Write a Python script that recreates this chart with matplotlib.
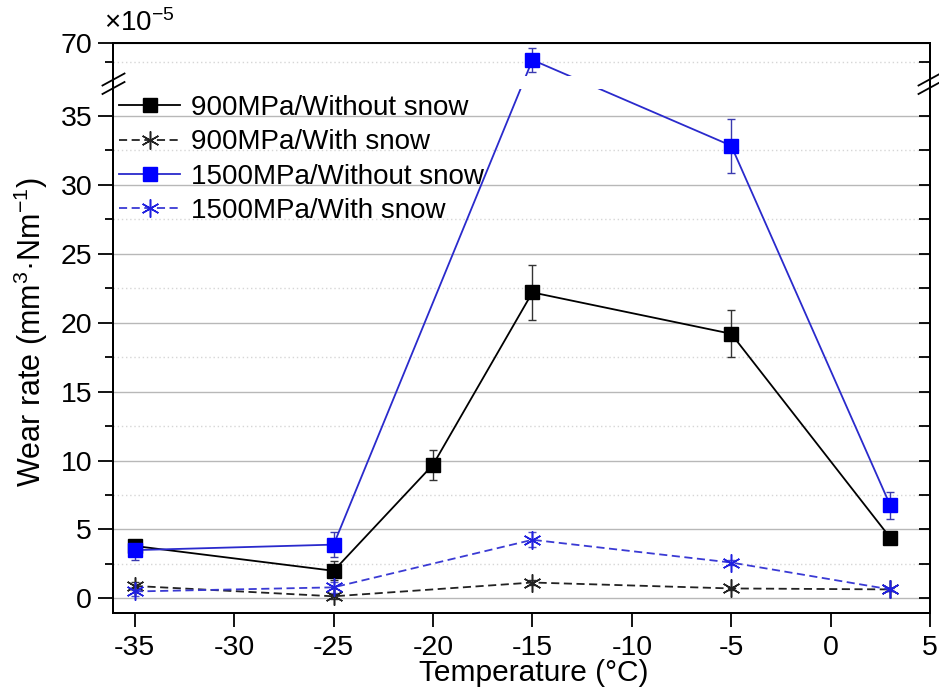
import numpy as np
import matplotlib
matplotlib.use('Agg')
import matplotlib.pyplot as plt
from matplotlib.patches import Rectangle
from matplotlib.lines import Line2D

plt.rcParams['font.family'] = ['Liberation Sans', 'DejaVu Sans']
plt.rcParams['mathtext.fontset'] = 'custom'
plt.rcParams['mathtext.rm'] = 'Liberation Sans'
plt.rcParams['mathtext.it'] = 'Liberation Sans:italic'
plt.rcParams['mathtext.bf'] = 'Liberation Sans:bold'

# ---------------- data ----------------
temps_900_dry = [-35, -25, -20, -15, -5, 3]
wear_900_dry = [3.8, 2.0, 9.7, 22.2, 19.2, 4.4]
err_900_dry = [0.3, 0.7, 1.1, 2.0, 1.7, 0.2]

temps = [-35, -25, -15, -5, 3]
wear_900_snow = [0.9, 0.15, 1.15, 0.72, 0.65]
err_900_snow = [0.3, 0.2, 0.2, 0.1, 0.1]
wear_1500_dry = [3.5, 3.9, 65.6, 32.85, 6.75]
err_1500_dry = [0.7, 0.9, 3.0, 1.95, 1.0]
wear_1500_snow = [0.5, 0.8, 4.25, 2.6, 0.65]
err_1500_snow = [0.3, 0.4, 0.55, 0.2, 0.1]

labels = ['900MPa/Without snow', '900MPa/With snow',
          '1500MPa/Without snow', '1500MPa/With snow']
xticks = [-35, -30, -25, -20, -15, -10, -5, 0, 5]
yticks_major = [0, 5, 10, 15, 20, 25, 30, 35, 70]
yticks_minor = [2.5, 7.5, 12.5, 17.5, 22.5, 27.5, 32.5, 65]

# ---------------- broken y scale ----------------
B_LO, B_HI, K = 37.5, 60.0, 0.28
xp = [-1e4, B_LO, B_HI, 1e4]
fp = [-1e4, B_LO, B_LO + 1e-6, B_LO + 1e-6 + (1e4 - B_HI) * K]


def fwd(y):
    return np.interp(np.asarray(y, float), xp, fp)


def inv(t):
    return np.interp(np.asarray(t, float), fp, xp)


W, H = 939, 697
fig = plt.figure(figsize=(W / 100, H / 100), dpi=100)
ax = fig.add_axes([113 / W, 1 - 612.7 / H, 817 / W, 569.7 / H])
ax.set_yscale('function', functions=(fwd, inv))
ax.set_xlim(-36.1, 5)
ax.set_ylim(-1.04, 70)

ax.set_xticks(xticks)
ax.set_xticklabels([str(v) for v in xticks])
ax.set_yticks(yticks_major)
ax.set_yticklabels([str(v) for v in yticks_major])
ax.set_yticks(yticks_minor, minor=True)
ax.yaxis.set_minor_formatter(matplotlib.ticker.NullFormatter())

ax.grid(axis='y', which='major', color='#b8b8b8', lw=1.0, ls='-', zorder=0)
ax.grid(axis='y', which='minor', color='#d6d6d6', lw=1.0, ls=(0, (1, 2)), zorder=0)
ax.set_axisbelow(True)

blue_line = '#2a2acc'
blue_dash = '#3a3ad4'
dash = (4.5, 2.5)

# error bars
ax.errorbar(temps_900_dry, wear_900_dry, yerr=err_900_dry, fmt='none',
            ecolor='#333333', elinewidth=1.0, capsize=3, capthick=1.0, zorder=2)
ax.errorbar(temps, wear_900_snow, yerr=err_900_snow, fmt='none',
            ecolor='#333333', elinewidth=1.0, capsize=3, capthick=1.0, zorder=2)
ax.errorbar(temps, wear_1500_dry, yerr=err_1500_dry, fmt='none',
            ecolor='#3a3ab0', elinewidth=1.0, capsize=3, capthick=1.0, zorder=2)
ax.errorbar(temps, wear_1500_snow, yerr=err_1500_snow, fmt='none',
            ecolor='#5050c8', elinewidth=1.0, capsize=3, capthick=1.0, zorder=2)

ast = (6, 2, 0)
h1, = ax.plot(temps_900_dry, wear_900_dry, color='black', lw=1.3, marker='s',
              ms=9.5, mfc='black', mec='black', label=labels[0], zorder=3)
h2, = ax.plot(temps, wear_900_snow, color='#222222', lw=1.3, ls='--', dashes=dash,
              marker=ast, ms=13, mec='#222222', mew=1.1, label=labels[1], zorder=3)
h3, = ax.plot(temps, wear_1500_dry, color=blue_line, lw=1.3, marker='s',
              ms=9.5, mfc='#0000ff', mec='#0000ff', label=labels[2], zorder=3)
h4, = ax.plot(temps, wear_1500_snow, color=blue_dash, lw=1.3, ls='--', dashes=dash,
              marker=ast, ms=13, mec='#2020e0', mew=1.1, label=labels[3], zorder=3)

# gap in the data lines at the axis break
ax.add_patch(Rectangle((0, 36.95), 1, 61.45 - 36.95, transform=ax.get_yaxis_transform(),
                       facecolor='white', edgecolor='none', zorder=4))

for sp in ax.spines.values():
    sp.set_linewidth(1.4)
    sp.set_zorder(6)

ax.tick_params(axis='y', which='major', direction='out', length=11, width=1.3,
               labelsize=20.5, pad=4, right=False)
ax.tick_params(axis='y', which='minor', direction='out', length=6, width=1.3, right=False)
ax.tick_params(axis='x', which='major', direction='out', length=10, width=1.3,
               labelsize=20.5, pad=6, top=False)
ax.tick_params(axis='x', which='minor', bottom=False, top=False)

# right-hand inward ticks
ax2 = ax.twinx()
ax2.set_yscale('function', functions=(fwd, inv))
ax2.set_ylim(ax.get_ylim())
ax2.set_yticks(yticks_major)
ax2.set_yticks(yticks_minor, minor=True)
ax2.tick_params(axis='y', which='both', direction='in', length=8, width=1.3,
                labelright=False, left=False, right=True)
ax2.yaxis.set_minor_formatter(matplotlib.ticker.NullFormatter())
for sp in ax2.spines.values():
    sp.set_linewidth(1.4)
    sp.set_zorder(6)

# break marks
def px_line(x0, y0, x1, y1):
    fig.add_artist(Line2D([x0 / W, x1 / W], [1 - y0 / H, 1 - y1 / H],
                          transform=fig.transFigure, color='black', lw=1.3))

for cx in (113.5, 929.5):
    for cy in (79.5, 88.0):
        px_line(cx - 11, cy + 6, cx + 11, cy - 6)

# legend
ax2.legend(handles=[h1, h2, h3, h4], loc='upper left',
           bbox_to_anchor=(119 / W, 1 - 95 / H), bbox_transform=fig.transFigure,
           frameon=False, fontsize=20, handlelength=2.2, handletextpad=0.4,
           labelspacing=0.3, borderpad=0, borderaxespad=0)

# texts
fig.text(104 / W, 1 - 23 / H, r'$\times10^{-5}$', fontsize=20, ha='left', va='center')
fig.text(534 / W, 1 - 673 / H, 'Temperature (°C)', fontsize=21.5, ha='center', va='center')
fig.text(31 / W, 1 - 332 / H, r'Wear rate (mm$^{3}$·Nm$^{-1}$)', fontsize=22,
         ha='center', va='center', rotation=90)

fig.savefig('out.png', dpi=100)
